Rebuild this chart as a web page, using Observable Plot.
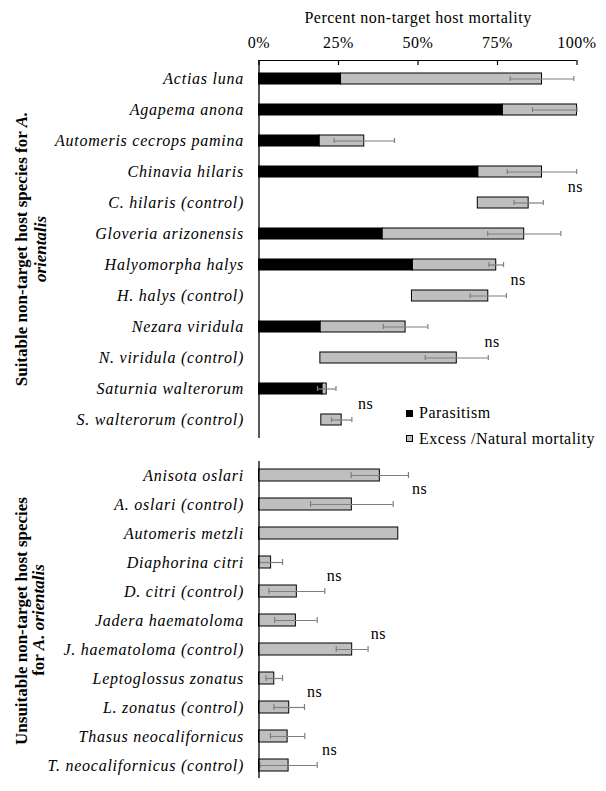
<!DOCTYPE html>
<html>
<head>
<meta charset="utf-8">
<script src="https://cdn.jsdelivr.net/npm/d3@7"></script>
<script src="https://cdn.jsdelivr.net/npm/@observablehq/plot@0.6"></script>
<style>
body { margin: 0; background: #fff; }
#wrap { position: relative; width: 606px; height: 791px; font-family: "Liberation Serif", "Times New Roman", serif; color: #000; overflow: hidden; }
#wrap svg { position: absolute; left: 0; }
.ytitle { position: absolute; transform: translate(-50%, -50%) rotate(-90deg); white-space: nowrap; font-weight: bold; font-size: 17px; line-height: 1; }
.leg { position: absolute; left: 406px; font-size: 16px; letter-spacing: 0.5px; line-height: 1; white-space: nowrap; }
.leg span.sw { position: absolute; left: 0; width: 7px; height: 7px; box-sizing: border-box; }
.leg span.tx { position: absolute; left: 13px; }
g[aria-label="y-axis tick label"] text { font-style: italic; letter-spacing: 0.75px; }
</style>
</head>
<body>
<div id="wrap"></div>
<script>
// ---- Data (percent) ----
const suitableSpecies = [
  "Actias luna", "Agapema anona", "Automeris cecrops pamina", "Chinavia hilaris",
  "C. hilaris (control)", "Gloveria arizonensis", "Halyomorpha halys", "H. halys (control)",
  "Nezara viridula", "N. viridula (control)", "Saturnia walterorum", "S. walterorum (control)"
];
const suitableParasitism = [25.8, 76.7, 19.1, 69.0, 0, 38.9, 48.4, 0, 19.4, 0, 20.0, 0];
const suitableBlank      = [0, 0, 0, 0, 68.8, 0, 0, 48.1, 0, 19.3, 0, 19.6];
const suitableExcess     = [63.2, 23.3, 14.0, 20.0, 16.0, 44.5, 26.2, 24.0, 26.7, 42.9, 1.3, 6.4];
const suitableError      = [10.0, 14.0, 9.5, 10.9, 4.6, 11.5, 2.3, 5.7, 7.0, 9.9, 2.9, 3.2];

const unsuitableSpecies = [
  "Anisota oslari", "A. oslari (control)", "Automeris metzli", "Diaphorina citri",
  "D. citri (control)", "Jadera haematoloma", "J. haematoloma (control)", "Leptoglossus zonatus",
  "L. zonatus (control)", "Thasus neocalifornicus", "T. neocalifornicus (control)"
];
const unsuitableExcess = [38.0, 29.2, 43.8, 3.8, 11.9, 11.6, 29.3, 4.8, 9.5, 9.0, 9.3];
const unsuitableError  = [9.0, 13.0, 0, 3.6, 8.8, 6.7, 5.0, 2.6, 4.8, 5.4, 9.0];

const nsSuitableSpecies = ["C. hilaris (control)", "H. halys (control)", "N. viridula (control)", "S. walterorum (control)"];
const nsSuitableX = [99.5, 81.5, 73.3, 33.5];
const nsUnsuitableSpecies = ["A. oslari (control)", "D. citri (control)", "J. haematoloma (control)", "L. zonatus (control)", "T. neocalifornicus (control)"];
const nsUnsuitableX = [50.5, 23.7, 37.5, 17.5, 22.2];

const xTicks = [0, 25, 50, 75, 100];
const xTitle = "Percent non-target host mortality";

// ---- Build rows ----
function buildRows(species, parasitism, blank, excess, error) {
  return species.map((s, i) => {
    const p = parasitism[i], b = blank[i], e = excess[i], err = error[i];
    const start = p + b, end = p + b + e;
    return { species: s, p, start, end, err, lo: Math.max(0, end - err), hi: Math.min(100, end + err) };
  });
}
const topRows = buildRows(suitableSpecies, suitableParasitism, suitableBlank, suitableExcess, suitableError);
const botRows = buildRows(unsuitableSpecies, unsuitableSpecies.map(() => 0), unsuitableSpecies.map(() => 0), unsuitableExcess, unsuitableError);
const topNs = nsSuitableSpecies.map((s, i) => ({ species: s, x: nsSuitableX[i] }));
const botNs = nsUnsuitableSpecies.map((s, i) => ({ species: s, x: nsUnsuitableX[i] }));

const GRAY = "#bfbfbf";
const ERR = "#7f7f7f";
const style = { fontFamily: "'Liberation Serif', 'Times New Roman', serif", fontSize: "16px", letterSpacing: "0.5px", color: "#000", background: "transparent", overflow: "visible" };

function barMarks(rows, ns) {
  const errRows = rows.filter(d => d.err > 0);
  return [
    Plot.barX(rows.filter(d => d.p > 0), { y: "species", x1: 0, x2: "p", fill: "#000", stroke: "#000", strokeWidth: 1 }),
    Plot.barX(rows, { y: "species", x1: "start", x2: "end", fill: GRAY, stroke: "#000", strokeWidth: 1 }),
    Plot.ruleY(errRows, { y: "species", x1: "lo", x2: "hi", stroke: ERR, strokeWidth: 1.2 }),
    Plot.tickX(errRows, { y: "species", x: "lo", stroke: ERR, strokeWidth: 1.2, insetTop: 3, insetBottom: 3 }),
    Plot.tickX(errRows, { y: "species", x: "hi", stroke: ERR, strokeWidth: 1.2, insetTop: 3, insetBottom: 3 }),
    Plot.text(ns, { x: "x", y: "species", text: () => "ns", dy: -16, fontSize: 16 }),
    Plot.ruleX([0], { stroke: "#000", strokeWidth: 1.3 }),
    Plot.axisY({ tickSize: 0, tickPadding: 15, fontStyle: "italic", fontSize: 16 })
  ];
}

const topPlot = Plot.plot({
  width: 606, height: 440,
  marginTop: 60, marginBottom: 2, marginLeft: 258.5, marginRight: 29.5,
  x: { domain: [0, 100], label: null },
  y: { domain: suitableSpecies, paddingInner: 0.63, paddingOuter: 0.3, label: null },
  style,
  marks: [
    ...barMarks(topRows, topNs),
    Plot.rect([0], { x1: 0, x2: 100, insetBottom: 377, fill: "#000" }),
    Plot.ruleX(xTicks, { x: d => d, stroke: "#000", strokeWidth: 1.2, insetBottom: 373 }),
    Plot.axisX({ anchor: "top", ticks: xTicks, tickFormat: d => d + "%", tickSize: 0, tickPadding: 13, fontSize: 16, label: null }),
    Plot.text([xTitle], { frameAnchor: "top", lineAnchor: "middle", dy: -43, text: d => d, fontSize: 16 })
  ]
});
topPlot.style.top = "0px";

const botPlot = Plot.plot({
  width: 606, height: 351,
  marginTop: 21, marginBottom: 13, marginLeft: 258.5, marginRight: 29.5,
  x: { domain: [0, 100], label: null, axis: null },
  y: { domain: unsuitableSpecies, paddingInner: 0.6, paddingOuter: 0.25, label: null },
  style,
  marks: barMarks(botRows, botNs)
});
botPlot.style.top = "440px";

const wrap = document.getElementById("wrap");
wrap.appendChild(topPlot);
wrap.appendChild(botPlot);

function addTitle(html, cx, cy) {
  const d = document.createElement("div");
  d.className = "ytitle";
  d.style.left = cx + "px";
  d.style.top = cy + "px";
  d.innerHTML = html;
  wrap.appendChild(d);
}
addTitle("Suitable non-target host species for <i>A.</i>", 21, 249);
addTitle("<i>orientalis</i>", 40, 249);
addTitle("Unsuitable non-target host species", 21, 621);
addTitle("for <i>A. orientalis</i>", 38, 620);

function addLegend(label, fill, cy) {
  const d = document.createElement("div");
  d.className = "leg";
  d.style.top = cy + "px";
  d.innerHTML = `<span class="sw" style="top:-3.5px;background:${fill};border:1px solid #000"></span><span class="tx" style="top:-8px">${label}</span>`;
  wrap.appendChild(d);
}
addLegend("Parasitism", "#000", 413);
addLegend("Excess /Natural mortality", GRAY, 438.5);
</script>
</body>
</html>
